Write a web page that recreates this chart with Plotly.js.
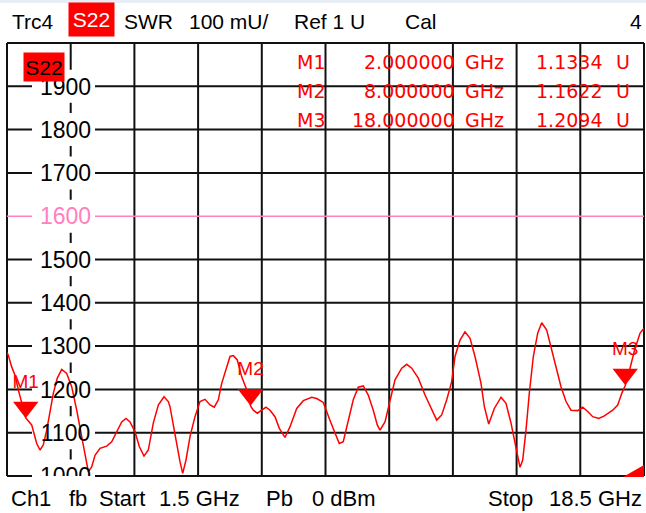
<!DOCTYPE html>
<html><head><meta charset="utf-8">
<script src="https://cdn.plot.ly/plotly-3.0.1.min.js"></script>
<style>html,body{margin:0;padding:0;background:#fff}#chart{width:646px;height:513px}</style>
</head><body><div id="chart"></div>
<script>
// ---- data ----
const freqGHz = [1.5,1.535,1.625,1.714,1.802,2.0,2.159,2.293,2.381,2.469,2.560,2.648,2.736,2.842,2.960,3.093,3.227,3.360,3.494,3.582,3.670,3.760,3.849,3.982,4.161,4.294,4.428,4.561,4.676,4.783,4.916,5.031,5.156,5.271,5.404,5.538,5.690,5.805,5.850,5.938,6.029,6.117,6.189,6.277,6.384,6.517,6.651,6.784,6.918,7.032,7.139,7.230,7.345,7.451,7.540,7.646,7.764,7.897,8.0,8.073,8.180,8.297,8.412,8.519,8.652,8.767,8.919,9.053,9.232,9.408,9.632,9.765,9.941,10.118,10.252,10.367,10.474,10.607,10.741,10.874,11.008,11.141,11.275,11.382,11.454,11.588,11.721,11.855,12.034,12.167,12.301,12.477,12.656,12.834,12.968,13.101,13.235,13.368,13.456,13.590,13.723,13.857,13.990,14.150,14.239,14.356,14.505,14.684,14.817,14.951,15.039,15.130,15.191,15.263,15.351,15.439,15.546,15.663,15.770,15.903,16.018,16.152,16.285,16.419,16.552,16.731,16.864,16.998,17.131,17.291,17.441,17.665,17.798,17.913,18.0,18.116,18.249,18.396,18.5];
const swrValues = [1285,1279,1252,1233,1199,1134,1118,1075,1060,1072,1106,1152,1191,1226,1246,1237,1206,1152,1091,1045,1010,1021,1048,1064,1069,1079,1102,1125,1133,1125,1102,1068,1046,1060,1122,1164,1183,1172,1160,1122,1075,1033,1006,1037,1091,1137,1172,1177,1164,1159,1176,1214,1245,1276,1278,1268,1229,1199,1162,1152,1145,1152,1159,1152,1137,1110,1089,1114,1156,1174,1182,1179,1170,1129,1099,1075,1079,1129,1176,1205,1208,1187,1152,1118,1106,1125,1176,1222,1249,1258,1249,1226,1187,1152,1129,1141,1176,1218,1276,1314,1333,1318,1276,1214,1160,1120,1156,1182,1168,1122,1083,1045,1020,1037,1106,1191,1276,1330,1354,1337,1299,1256,1206,1172,1152,1151,1159,1149,1137,1133,1139,1152,1164,1192,1209,1245,1291,1330,1341];
const yTicks = [1000,1100,1200,1300,1400,1500,1600,1700,1800,1900];
const yTickLabels = ['1000','1100','1200','1300','1400','1500','1600','1700','1800','1900'];
const refValue = 1600;
const markerNames = ['M1','M2','M3'];
const markerFreqs = [2,8,18];
const markerValues = [1.1334,1.1622,1.2094];
const xStart = 1.5, xStop = 18.5, yMin = 1000, yMax = 2000, yStep = 100, xDivs = 10;
const headerLabels = ['Trc4','S22','SWR','100 mU/','Ref 1 U','Cal','4'];
const footerLabels = ['Ch1','fb','Start','1.5 GHz','Pb','0 dBm','Stop','18.5 GHz'];

// ---- geometry ----
const W=646,H=513,L=7,R=2,T=43,B=37;
const PW=W-L-R, PH=H-T-B;
const px2x = p => (p-L)/PW;
const py2y = p => (H-B-p)/PH;
const v2y = v => (v-yMin)/(yMax-yMin);
const f2x = f => (f-xStart)/(xStop-xStart);
const FONT = 'Liberation Sans, Arial, sans-serif';
const MFONT = 'DejaVu Sans, Liberation Sans, sans-serif';
const RED = '#ff0000', PINK = '#ff80c0', GRID = '#111111';

const labelX = xStart + (65.5-L)/PW*(xStop-xStart);
const halfBox = 16.5/PH;
const triSize = 22;
const triShift = (triSize/2)/PH*(yMax-yMin);
const lblShift = 2.5/PH*(yMax-yMin);

const shapes = [];
// top strip
shapes.push({type:'rect',xref:'paper',yref:'paper',x0:px2x(0),x1:px2x(W),y0:py2y(3),y1:py2y(0),fillcolor:'#e8eef6',line:{width:0},layer:'above'});
// grid (incl. frame)
const gl = {color:GRID,width:2};
for(let i=0;i<=xDivs;i++){
  const xv = f2x(xStart + i*(xStop-xStart)/xDivs);
  shapes.push({type:'line',xref:'paper',yref:'paper',x0:xv,x1:xv,y0:0,y1:1,line:gl,layer:'below'});
}
for(let v=yMin; v<=yMax; v+=yStep){
  if(v===refValue) continue;
  shapes.push({type:'line',xref:'paper',yref:'paper',x0:0,x1:1,y0:v2y(v),y1:v2y(v),line:gl,layer:'below'});
}
// reference line
shapes.push({type:'line',xref:'paper',yref:'paper',x0:0,x1:1,y0:v2y(refValue),y1:v2y(refValue),line:{color:PINK,width:1.6},layer:'below'});
// label background boxes
yTicks.forEach(t=>shapes.push({type:'rect',xref:'paper',yref:'paper',x0:px2x(32),x1:px2x(95),y0:v2y(t)-halfBox,y1:v2y(t)+halfBox,fillcolor:'#ffffff',line:{width:0},layer:'below'}));
// sweep indicator triangle bottom right
shapes.push({type:'path',xref:'paper',yref:'paper',path:`M${px2x(623)},${py2y(477)} L${px2x(644)},${py2y(477)} L${px2x(644)},${py2y(465)} Z`,fillcolor:RED,line:{width:0},layer:'above'});

const ann = [];
function txt(text,px,py,anchor,size,color,extra,family){
  ann.push(Object.assign({text,xref:'paper',yref:'paper',x:px2x(px),y:py2y(py),xanchor:anchor,yanchor:'middle',showarrow:false,font:{family:family||FONT,size,color}},extra||{}));
}
// header
txt(headerLabels[0],10,21,'left',21,'#000');
txt(headerLabels[1],68,19.5,'left',21,'#fff',{bgcolor:RED,width:45,height:33,borderpad:0,align:'center'});
txt(headerLabels[2],122,21,'left',21,'#000');
txt(headerLabels[3],187,21,'left',21,'#000');
txt(headerLabels[4],292,21,'left',21,'#000');
txt(headerLabels[5],403,21,'left',21,'#000');
txt(headerLabels[6],644,21,'right',21,'#000');
// trace label in plot
txt('S22',23,67,'left',21,'#000',{bgcolor:RED,width:40,height:28,borderpad:0,align:'center'});
// marker readouts
const rowY=[62,91,120];
markerNames.forEach((m,i)=>{
  txt(m,295,rowY[i],'left',19,RED,null,MFONT);
  txt(markerFreqs[i].toFixed(6),457,rowY[i],'right',19,RED,null,MFONT);
  txt('GHz',463,rowY[i],'left',19,RED,null,MFONT);
  txt(markerValues[i].toFixed(4),604,rowY[i],'right',19,RED,null,MFONT);
  txt('U',614,rowY[i],'left',19,RED,null,MFONT);
});
// footer
const fx=[9,67,97,157,264,310,486,644];
footerLabels.forEach((f,i)=>txt(f,fx[i],498,i===7?'right':'left',22,'#000'));

const traces = [
  {type:'scatter',mode:'text',x:yTicks.map(()=>labelX),y:yTicks,yaxis:'y3',text:yTickLabels,
   textfont:{family:FONT,size:23,color:yTicks.map(t=>t===refValue?PINK:'#000')},textposition:'middle center',
   cliponaxis:true,hoverinfo:'skip',showlegend:false},
  {type:'scatter',mode:'lines',x:freqGHz,y:swrValues,line:{color:RED,width:1.5},hoverinfo:'skip',showlegend:false},
  {type:'scatter',mode:'markers+text',x:markerFreqs,y:markerValues.map(v=>v*1000),yaxis:'y2',
   marker:{symbol:'triangle-down',size:triSize,color:RED,line:{width:0}},
   text:markerNames,textposition:'top center',textfont:{family:FONT,size:19,color:RED},
   cliponaxis:false,hoverinfo:'skip',showlegend:false}
];

const layout = {
  width:W,height:H,margin:{l:L,r:R,t:T,b:B,pad:0},
  paper_bgcolor:'#fff',plot_bgcolor:'rgba(0,0,0,0)',showlegend:false,
  xaxis:{range:[xStart,xStop],showticklabels:false,ticks:'',showgrid:false,zeroline:false,showline:false,fixedrange:true},
  yaxis:{range:[yMin,yMax],showticklabels:false,ticks:'',showgrid:false,zeroline:false,showline:false,fixedrange:true},
  yaxis2:{overlaying:'y',range:[yMin-triShift,yMax-triShift],visible:false,fixedrange:true},
  yaxis3:{overlaying:'y',range:[yMin+lblShift,yMax+lblShift],visible:false,fixedrange:true},
  shapes,annotations:ann
};
Plotly.newPlot('chart',traces,layout,{displayModeBar:false,staticPlot:true});
</script></body></html>
